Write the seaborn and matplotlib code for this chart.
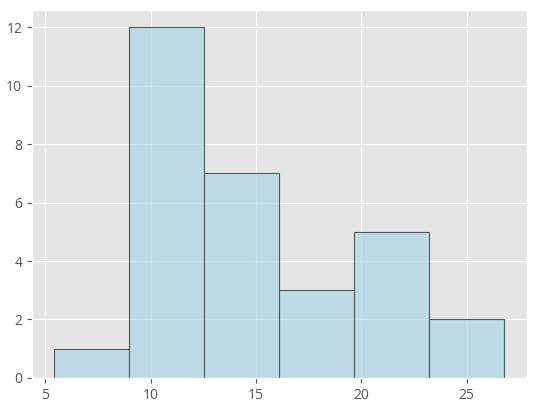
import matplotlib
matplotlib.use('Agg')
import matplotlib.pyplot as plt
import seaborn as sns
import pandas as pd

bin_edges = [5.43, 8.99, 12.55, 16.11, 19.67, 23.23, 26.79]
counts = [1, 12, 7, 3, 5, 2]

centers = [(bin_edges[i] + bin_edges[i + 1]) / 2 for i in range(len(counts))]
df = pd.DataFrame({'valor': centers, 'n': counts})

plt.style.use('ggplot')
plt.rcParams['font.family'] = ['Open Sans', 'DejaVu Sans']

fig, ax = plt.subplots(figsize=(5.42, 4.09), dpi=100)
sns.histplot(data=df, x='valor', weights='n', bins=bin_edges, color='lightblue',
             alpha=0.7, edgecolor='#4a5a5f', linewidth=0.8, ax=ax)
ax.set_xlabel('')
ax.set_ylabel('')
ax.set_xticks([5, 10, 15, 20, 25])
ax.set_yticks([0, 2, 4, 6, 8, 10, 12])
ax.tick_params(labelsize=10, colors='#555555')
plt.subplots_adjust(left=0.059, right=0.972, bottom=0.076, top=0.976)
plt.savefig('out.png')
